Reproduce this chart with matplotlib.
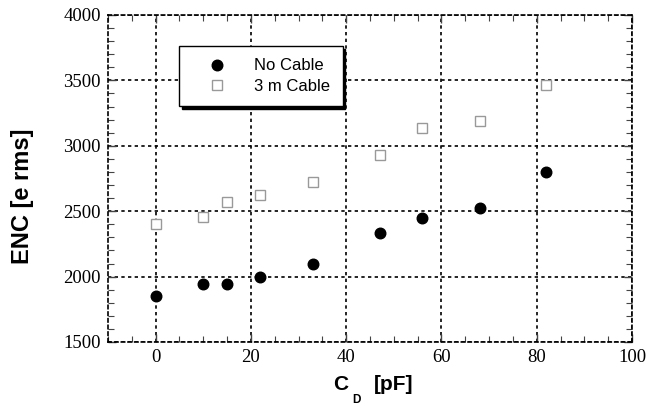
import matplotlib
matplotlib.use("Agg")
import matplotlib.pyplot as plt
from matplotlib.ticker import MultipleLocator

cd_pf = [0, 10, 15, 22, 33, 47, 56, 68, 82]
enc_no_cable = [1855, 1940, 1940, 2000, 2100, 2335, 2450, 2523, 2796]
enc_3m_cable = [2404, 2457, 2572, 2622, 2725, 2926, 3138, 3186, 3462]
series_labels = ["No Cable", "3 m Cable"]
xlabel_parts = ["C", "D", "[pF]"]
ylabel_text = "ENC [e rms]"

W, H = 667, 405
fig = plt.figure(figsize=(W/100, H/100), dpi=100)
ax = fig.add_axes([108/W, 1-342/H, (632-108)/W, (342-15)/H])

ax.plot(cd_pf, enc_no_cable, linestyle="none", marker="o", markersize=7.6,
        color="black", label=series_labels[0], zorder=3)
ax.plot(cd_pf, enc_3m_cable, linestyle="none", marker="s", markersize=7.2,
        markerfacecolor="white", markeredgecolor="#999999", markeredgewidth=1.0,
        label=series_labels[1], zorder=3)

ax.set_xlim(-10, 100)
ax.set_ylim(1500, 4000)
ax.xaxis.set_major_locator(MultipleLocator(20))
ax.xaxis.set_minor_locator(MultipleLocator(5))
ax.yaxis.set_major_locator(MultipleLocator(500))
ax.yaxis.set_minor_locator(MultipleLocator(100))

ax.grid(True, which="major", color="black", linestyle=(0, (2, 2)), linewidth=1.2)
for s in ax.spines.values():
    s.set_linestyle((0, (2, 2)))
    s.set_linewidth(1.2)

ax.tick_params(which="both", direction="in", top=True, right=True, color="#444444")
ax.tick_params(which="major", length=6, width=1, pad=5)
ax.tick_params(which="minor", length=4, width=0.8)
for lab in ax.get_xticklabels() + ax.get_yticklabels():
    lab.set_fontfamily("Liberation Serif")
    lab.set_fontsize(13.5)

# x label: C with lowered small subscript D, then [pF]
lab_kw = dict(fontfamily="Liberation Sans", fontweight="bold", va="baseline", ha="left")
fig.text(333/W, 1-390/H, xlabel_parts[0], fontsize=15, **lab_kw)
fig.text(352/W, 1-403/H, xlabel_parts[1], fontsize=8.5, **lab_kw)
fig.text(374/W, 1-390/H, xlabel_parts[2], fontsize=15, **lab_kw)

ax.set_ylabel(ylabel_text, fontfamily="Liberation Sans", fontweight="bold",
              fontsize=17)
ax.yaxis.set_label_coords((34-108)/524, (342-196)/327)

leg = ax.legend(loc="upper left", bbox_to_anchor=((179-108)/524, (342-46)/327),
                borderaxespad=0, fancybox=False, frameon=True, framealpha=1,
                edgecolor="black", numpoints=1, handlelength=3.0,
                handletextpad=0.76, borderpad=0.75, labelspacing=0.32,
                prop={"family": "Liberation Sans", "size": 12},
                shadow={"color": "black", "alpha": 1})
leg.get_frame().set_linewidth(1.0)

fig.savefig("out.png", dpi=100)
